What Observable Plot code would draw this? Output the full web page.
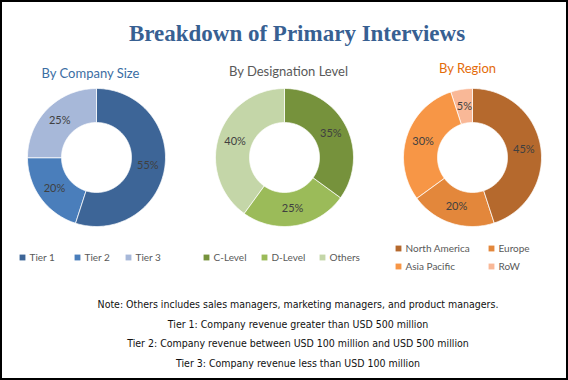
<!DOCTYPE html>
<html>
<head>
<meta charset="utf-8">
<script src="https://cdn.jsdelivr.net/npm/d3@7"></script>
<script src="https://cdn.jsdelivr.net/npm/@observablehq/plot@0.6"></script>
<style>
html, body { margin: 0; padding: 0; background: #fff; }
#frame { position: relative; width: 564px; height: 376px; border: 2px solid #000; overflow: hidden; background: #fff; }
#title { height: 53px; box-sizing: border-box; padding-top: 19px; padding-left: 26px; text-align: center;
  font-family: "Liberation Serif", "DejaVu Serif", serif; font-weight: bold; font-size: 23px; line-height: 26px; color: #376092; }
#chart svg { display: block; }
#notes { box-sizing: border-box; padding-top: 15px; padding-left: 28px; text-align: center;
  font-family: "Liberation Sans Narrow", "DejaVu Sans Condensed", sans-serif; font-size: 10.5px; line-height: 19.5px; color: #111; }
</style>
</head>
<body>
<div id="frame">
  <div id="title"></div>
  <div id="chart"></div>
  <div id="notes"></div>
</div>
<script>
// ---- data ----
const title = "Breakdown of Primary Interviews";
const groups = ["By Company Size", "By Designation Level", "By Region"];
const sizeLabels = ["Tier 1", "Tier 2", "Tier 3"];
const sizeValues = [55, 20, 25];
const designationLabels = ["C-Level", "D-Level", "Others"];
const designationValues = [35, 25, 40];
const regionLabels = ["North America", "Europe", "Asia Pacific", "RoW"];
const regionValues = [45, 20, 30, 5];
const notes = [
  "Note: Others includes sales managers, marketing managers, and product managers.",
  "Tier 1: Company revenue greater than USD 500 million",
  "Tier 2: Company revenue between USD 100 million and USD 500 million",
  "Tier 3: Company revenue less than USD 100 million"
];

// ---- styles ----
const sizeColors = ["#3D6597", "#4A7EBB", "#A7B8D9"];
const designationColors = ["#76923C", "#9BBB59", "#C4D6A8"];
const regionColors = ["#B5692D", "#E3873B", "#F79646", "#F9B897"];
const groupTitleColors = ["#3B6DA3", "#595959", "#E46C0A"];

// ---- layout (pixels) ----
const W = 564, H = 225, U = 188;           // U: pixels per x/y unit
const donutY = 102, rInner = 35, rOuter = 69;
const subtitleLayout = [[-6, 18], [4, 16], [-5, 13]];
const legendLayout = [
  [[-74, 202], [-19, 202], [32, 202]],
  [[-78, 202], [-20, 202], [38, 202]],
  [[-74, 193], [19, 193], [-74, 211], [19, 211]]
];

const series = [
  {labels: sizeLabels, values: sizeValues, colors: sizeColors},
  {labels: designationLabels, values: designationValues, colors: designationColors},
  {labels: regionLabels, values: regionValues, colors: regionColors}
];

const polys = [], slices = [], legendItems = [];
series.forEach((s, gi) => {
  const cx = gi + 0.5, cy = donutY / U, r0 = rInner / U, r1 = rOuter / U;
  const arcs = d3.pie().sort(null).value(d => d)(s.values);
  arcs.forEach((a, k) => {
    const key = s.labels[k];
    const n = Math.max(2, Math.ceil((a.endAngle - a.startAngle) / (Math.PI / 180)));
    for (let j = 0; j <= n; j++) {
      const t = a.startAngle + (a.endAngle - a.startAngle) * j / n;
      polys.push({key, x: cx + r1 * Math.sin(t), y: cy - r1 * Math.cos(t)});
    }
    for (let j = n; j >= 0; j--) {
      const t = a.startAngle + (a.endAngle - a.startAngle) * j / n;
      polys.push({key, x: cx + r0 * Math.sin(t), y: cy - r0 * Math.cos(t)});
    }
    const m = (a.startAngle + a.endAngle) / 2, rm = (r0 + r1) / 2;
    slices.push({key, label: `${s.values[k]}%`, x: cx + rm * Math.sin(m), y: cy - rm * Math.cos(m)});
    const [lx, ly] = legendLayout[gi][k];
    legendItems.push({key, x: cx + lx / U, y: ly / U});
  });
});

const allLabels = series.flatMap(s => s.labels);
const allColors = series.flatMap(s => s.colors);

document.getElementById("title").textContent = title;
document.getElementById("notes").innerHTML = notes.map(n => `<div>${n}</div>`).join("");

const chart = Plot.plot({
  width: W, height: H,
  marginTop: 0, marginRight: 0, marginBottom: 0, marginLeft: 0,
  x: {domain: [0, 3], range: [0, W], axis: null},
  y: {domain: [0, H / U], range: [0, H], axis: null},
  color: {domain: allLabels, range: allColors},
  style: {fontFamily: "Lato, 'Open Sans', sans-serif", background: "white", overflow: "visible"},
  marks: [
    Plot.line(polys, {x: "x", y: "y", z: "key", fill: "key", stroke: "white", strokeWidth: 0.75, curve: "linear-closed"}),
    Plot.text(slices, {x: "x", y: "y", text: "label", fill: "#404040", fontSize: 11}),
    ...groups.map((g, i) => Plot.text([g], {
      x: () => i + 0.5 + subtitleLayout[i][0] / U, y: () => subtitleLayout[i][1] / U,
      text: d => d, fill: groupTitleColors[i], fontSize: 13
    })),
    Plot.dot(legendItems, {x: "x", y: "y", fill: "key", symbol: "square", r: 3.3}),
    Plot.text(legendItems, {x: "x", y: "y", text: "key", textAnchor: "start", dx: 7, fill: "#595959", fontSize: 10})
  ]
});
document.getElementById("chart").appendChild(chart);
</script>
</body>
</html>
